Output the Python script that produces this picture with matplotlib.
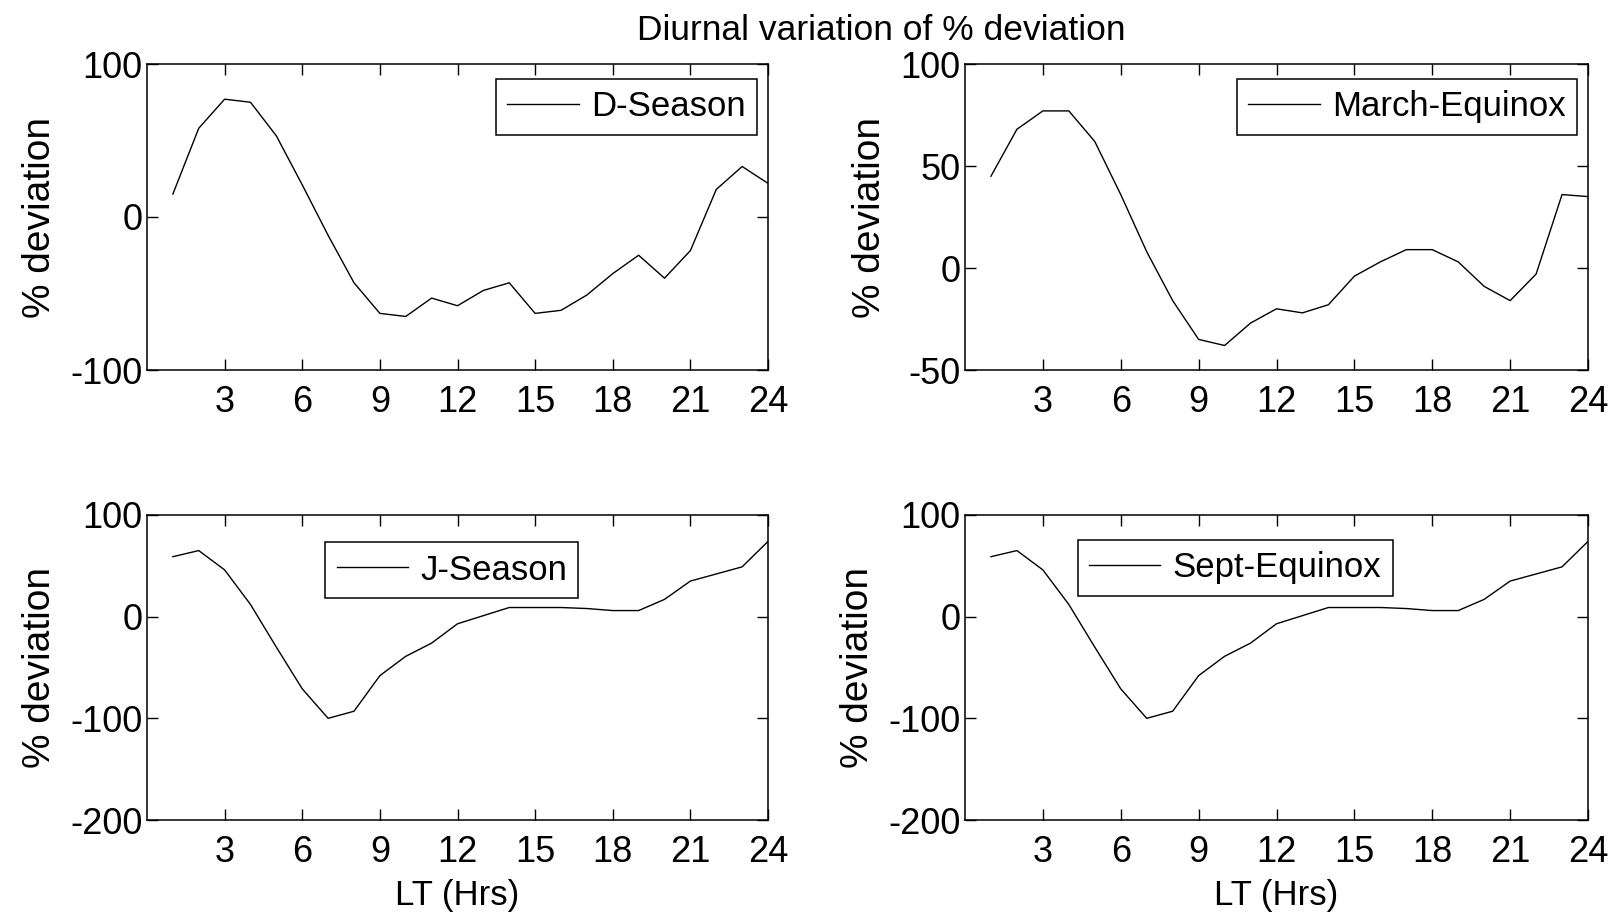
import matplotlib
matplotlib.use('Agg')
import matplotlib.pyplot as plt

# local time (hours) and % deviation per season
hours = list(range(1, 25))
d_season = [15, 58, 77, 75, 53, 21, -12, -43, -63, -65, -53, -58, -48, -43,
            -63, -61, -51, -37, -25, -40, -22, 18, 33, 22]
march_equinox = [45, 68, 77, 77, 62, 36, 8, -16, -35, -38, -27, -20, -22, -18,
                 -4, 3, 9, 9, 3, -9, -16, -3, 36, 35]
j_season = [59, 65, 46, 12, -30, -71, -100, -93, -58, -39, -26, -7, 1, 9,
            9, 9, 8, 6, 6, 17, 35, 42, 49, 74]
sept_equinox = [59, 65, 46, 12, -30, -71, -100, -93, -58, -39, -26, -7, 1, 9,
                9, 9, 8, 6, 6, 17, 35, 42, 49, 74]

x_ticks = [3, 6, 9, 12, 15, 18, 21, 24]

FS = 25
TICK_FS = 26

plt.rcParams['font.family'] = ['Liberation Sans', 'DejaVu Sans']
plt.rcParams['axes.linewidth'] = 1.1
plt.rcParams['axes.unicode_minus'] = False

W, H = 1610, 916
fig = plt.figure(figsize=(W / 100, H / 100), dpi=100)


def make_axes(left, top, right, bottom):
    return fig.add_axes([left / W, 1 - bottom / H, (right - left) / W, (bottom - top) / H])


panels = [
    (make_axes(147, 64, 768, 370), d_season, 'D-Season', (-100, 100), [-100, 0, 100],
     dict(loc='upper right', bbox_to_anchor=(0.982, 0.951)), False),
    (make_axes(965, 64, 1588, 370), march_equinox, 'March-Equinox', (-50, 100), [-50, 0, 50, 100],
     dict(loc='upper right', bbox_to_anchor=(0.982, 0.951)), False),
    (make_axes(147, 515, 768, 820), j_season, 'J-Season', (-200, 100), [-200, -100, 0, 100],
     dict(loc='upper left', bbox_to_anchor=(0.287, 0.911)), True),
    (make_axes(965, 515, 1588, 820), sept_equinox, 'Sept-Equinox', (-200, 100), [-200, -100, 0, 100],
     dict(loc='upper left', bbox_to_anchor=(0.181, 0.918)), True),
]

for ax, series, name, ylim, yticks, leg_kw, bottom_row in panels:
    ax.plot(hours, series, color='black', linewidth=1.0, label=name)
    ax.set_xlim(0, 24)
    ax.set_ylim(*ylim)
    ax.set_xticks(x_ticks)
    ax.set_yticks(yticks)
    ax.tick_params(direction='in', top=True, right=True, length=8, width=1,
                   labelsize=TICK_FS)
    ax.tick_params(axis='x', pad=11)
    ax.tick_params(axis='y', pad=3)
    ax.set_ylabel('% deviation', fontsize=28, labelpad=9)
    if bottom_row:
        ax.set_xlabel('LT (Hrs)', fontsize=FS, labelpad=6)
    leg = ax.legend(fontsize=FS, frameon=True, fancybox=False, framealpha=1,
                    edgecolor='black', handlelength=2.05, handletextpad=0.35,
                    borderpad=0.33, borderaxespad=0, **leg_kw)
    leg.get_frame().set_linewidth(1.1)

fig.text(881 / W, 1 - 31 / H, 'Diurnal variation of % deviation',
         ha='center', va='center', fontsize=25.5)

fig.savefig('out.png', dpi=100, facecolor='white')
